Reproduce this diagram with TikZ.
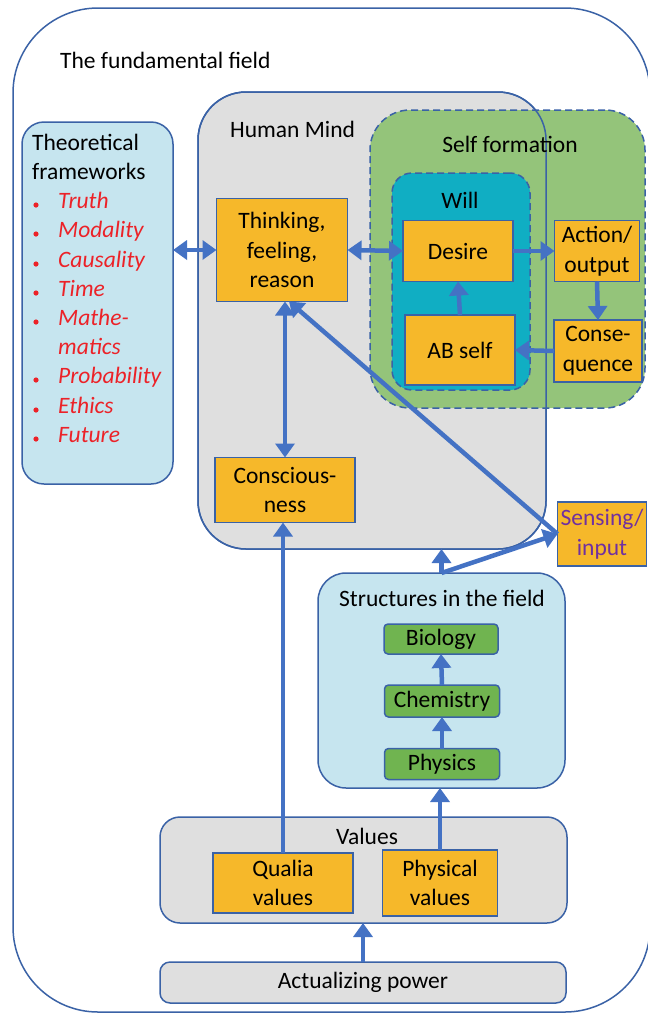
\documentclass[tikz,border=0pt]{standalone}
\usepackage{fontspec}
\setmainfont{Carlito}
\usetikzlibrary{arrows.meta}

\definecolor{edgeblue}{HTML}{3A62A6}
\definecolor{arrowblue}{HTML}{4472C4}
\definecolor{boxorange}{HTML}{F6B82A}
\definecolor{paleblue}{HTML}{C6E5EF}
\definecolor{mindgray}{HTML}{DFDFDF}
\definecolor{selfgreen}{HTML}{94C47A}
\definecolor{willteal}{HTML}{10AEC3}
\definecolor{sciencegreen}{HTML}{70B450}
\definecolor{itemred}{HTML}{EC2228}
\definecolor{senseviolet}{HTML}{7030A0}

\newcommand{\diafont}{\fontsize{23.5}{29.5}\selectfont}

\tikzset{
  container/.style={draw=edgeblue, line width=1.5pt, inner sep=0pt, outer sep=0pt},
  box/.style={draw=edgeblue, line width=1.5pt, fill=boxorange, inner sep=0pt,
    outer sep=0pt, align=center, font=\diafont},
  science/.style={box, fill=sciencegreen, rounded corners=4pt},
  caption/.style={inner sep=0pt, font=\diafont, text height=16pt, text depth=5pt},
  flow/.style={draw=arrowblue, line width=4.5pt, -{Triangle[length=14pt,width=19pt]}},
  biflow/.style={flow, {Triangle[length=14pt,width=19pt]}-{Triangle[length=14pt,width=19pt]}},
}

\begin{document}
\begin{tikzpicture}[x=1pt,y=-1pt]
  \useasboundingbox (0,0) rectangle (648,1013);
  % the field
  \begin{scope}
    \clip (0,0) rectangle (648,1013);
    \node[container, fill=white, rounded corners=85pt, minimum width=637pt, minimum height=1004pt] (field) at (331.5,510) {};
  \end{scope}
  \node[caption, anchor=west] (fieldlabel) at (60,63) {The fundamental field};

  % theoretical frameworks
  \node[container, fill=paleblue, rounded corners=22pt, minimum width=151pt, minimum height=362pt] (theory) at (97.5,303) {};
  \node[caption, anchor=west] (theorylabel) at (32,145) {Theoretical};
  \node[caption, anchor=west] (theorylabelb) at (32,174) {frameworks};
  \foreach \y/\word/\dot in {203/Truth/1, 232/Modality/1, 262/Causality/1, 291/Time/1,
      320/Mathe-/1, 349/matics/0, 378/Probability/1, 408/Ethics/1, 437/Future/1}{
    \node[caption, anchor=west, text=itemred, font=\diafont\itshape] (item\y) at (58,\y) {\word};
    \ifnum\dot=1 \fill[itemred] (36,\y+2) circle (2.6pt); \fi
  }

  % human mind and self formation
  \node[container, fill=mindgray, rounded corners=48pt, minimum width=348pt, minimum height=457pt] (mind) at (372,320.5) {};
  \node[caption, anchor=west] (mindlabel) at (230,132) {Human Mind};
  \node[container, fill=selfgreen, dashed, dash pattern=on 7pt off 4pt, rounded corners=40pt,
    minimum width=275pt, minimum height=298pt] (selfform) at (507.5,259) {};
  \draw[draw=edgeblue, line width=1.5pt, rounded corners=48pt] (mind.south west) rectangle (mind.north east);
  \node[caption] (selflabel) at (510,147) {Self formation};
  \node[container, fill=willteal, dashed, dash pattern=on 7pt off 4pt, rounded corners=20pt,
    minimum width=138pt, minimum height=217pt] (will) at (461,281.5) {};
  \node[caption] (willlabel) at (460,203) {Will};

  \node[box, minimum width=131pt, minimum height=103pt] (think) at (282,250) {Thinking,\\feeling,\\reason};
  \node[box, minimum width=110pt, minimum height=61pt] (desire) at (458,251) {Desire};
  \node[box, minimum width=110pt, minimum height=70pt] (abself) at (460,350) {AB self};
  \node[box, minimum width=85pt, minimum height=61pt] (action) at (597,251) {Action/\\output};
  \node[box, minimum width=88pt, minimum height=62pt] (conseq) at (598,351) {Conse-\\quence};
  \node[box, minimum width=140pt, minimum height=65pt] (consc) at (285,490) {Conscious-\\ness};
  \node[box, text=senseviolet, minimum width=89pt, minimum height=64pt] (sensing) at (602,534) {Sensing/\\input};

  % structures in the field
  \node[container, fill=paleblue, rounded corners=28pt, minimum width=247pt, minimum height=215pt] (structures) at (441.5,680.5) {};
  \node[caption] (structlabel) at (442,601) {Structures in the field};
  \node[science, minimum width=114pt, minimum height=30pt] (biology) at (441,639) {Biology};
  \node[science, minimum width=115pt, minimum height=32pt] (chemistry) at (442,701) {Chemistry};
  \node[science, minimum width=115pt, minimum height=31pt] (physics) at (442,764) {Physics};

  % values and power
  \node[container, fill=mindgray, rounded corners=20pt, minimum width=407pt, minimum height=106pt] (values) at (363.5,870) {};
  \node[caption] (valueslabel) at (367,839) {Values};
  \node[box, minimum width=140pt, minimum height=60pt] (qualia) at (283,883) {Qualia\\values};
  \node[box, minimum width=115pt, minimum height=66pt] (physval) at (440,883) {Physical\\values};
  \node[container, fill=mindgray, rounded corners=10pt, minimum width=406pt, minimum height=41pt,
    font=\diafont] (actual) at (363,982.5) {Actualizing power};

  % arrows
  \draw[biflow] (think.west -| theory.east) -- (think.west);
  \draw[biflow] (think.east) -- (desire.west);
  \draw[flow] (desire.east) -- (action.west);
  \draw[flow] (action.south) -- (conseq.north);
  \draw[flow] (conseq.west) -- (abself.east);
  \draw[flow] (abself.north) -- (desire.south);
  \draw[biflow] (consc.north) -- (consc.north |- think.south);
  \draw[flow] (qualia.north) -- (qualia.north |- consc.south);
  \draw[flow] (sensing.west) -- ([xshift=7pt]think.south);
  \draw[flow] (structures.north) -- (structures.north |- mind.south);
  \draw[flow] (structures.north) -- (sensing.west);
  \draw[flow] (physics.north) -- (chemistry.south);
  \draw[flow] (chemistry.north) -- (biology.south);
  \draw[flow] (physval.north) -- (physval.north |- structures.south);
  \draw[flow] (actual.north) -- (actual.north |- values.south);
\end{tikzpicture}
\end{document}
